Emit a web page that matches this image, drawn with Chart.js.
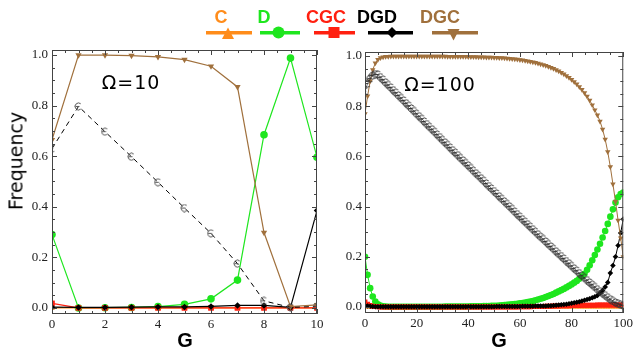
<!DOCTYPE html>
<html>
<head>
<meta charset="utf-8">
<script src="https://cdn.jsdelivr.net/npm/chart.js@4"></script>
<style>
body { margin: 0; background: #fff; }
#wrap { position: relative; width: 636px; height: 349px; overflow: hidden; font-family: "DejaVu Sans", sans-serif; }
canvas { position: absolute; top: 0; }
.lbl { position: absolute; white-space: nowrap; line-height: 1; transform: translate(-50%, -50%); color: #000; }
</style>
</head>
<body>
<div id="wrap">
  <canvas id="leftChart" width="330" height="349" style="left:0"></canvas>
  <canvas id="rightChart" width="306" height="349" style="left:330px"></canvas>
  <svg id="legend" width="636" height="45" style="position:absolute;left:0;top:0"></svg>
  <div class="lbl" style="left:16px;top:161px;font-size:19px;transform:translate(-50%,-50%) rotate(-90deg)">Frequency</div>
  <div class="lbl" style="left:185px;top:340px;font:bold 20px 'Liberation Sans'">G</div>
  <div class="lbl" style="left:499px;top:340px;font:bold 20px 'Liberation Sans'">G</div>
  <div class="lbl" style="left:131px;top:82px;font-size:19px;letter-spacing:1px">Ω=10</div>
  <div class="lbl" style="left:440px;top:84px;font-size:19px;letter-spacing:1px">Ω=100</div>
</div>
<script>
// series names / colours (legend order)
const seriesNames = ["C", "D", "CGC", "DGD", "DGC"];
const seriesColors = ["#ff8c1a", "#1ee61e", "#ff2010", "#000000", "#a0703c"];

// tick labels
const yTicks = [0, 0.2, 0.4, 0.6, 0.8, 1.0];
const xTicksLeft = [0, 2, 4, 6, 8, 10];
const xTicksRight = [0, 20, 40, 60, 80, 100];

// ---- Omega = 10 ----
const gLeft = [0, 1, 2, 3, 4, 5, 6, 7, 8, 9, 10];
const cLeft = [0, 0, 0, 0, 0, 0, 0, 0, 0, 0, 0];
const dLeft = [0.29, 0.0, 0.001, 0.002, 0.005, 0.014, 0.036, 0.11, 0.685, 0.988, 0.596];
const cgcLeft = [0.018, 0, 0, 0, 0, 0, 0, 0, 0, 0, 0];
const dgdLeft = [0.003, 0.002, 0.002, 0.003, 0.004, 0.004, 0.006, 0.01, 0.01, 0.002, 0.385];
const dgcLeft = [0.665, 1.0, 1.0, 0.998, 0.993, 0.982, 0.956, 0.874, 0.298, 0.005, 0.012];
const epsLeft = [0.63, 0.797, 0.697, 0.598, 0.497, 0.395, 0.295, 0.175, 0.028, 0.002, 0.006];

// ---- Omega = 100 ----
const gRight = [
  0, 1, 2, 3, 4, 5, 6, 7, 8, 9,
  10, 11, 12, 13, 14, 15, 16, 17, 18, 19,
  20, 21, 22, 23, 24, 25, 26, 27, 28, 29,
  30, 31, 32, 33, 34, 35, 36, 37, 38, 39,
  40, 41, 42, 43, 44, 45, 46, 47, 48, 49,
  50, 51, 52, 53, 54, 55, 56, 57, 58, 59,
  60, 61, 62, 63, 64, 65, 66, 67, 68, 69,
  70, 71, 72, 73, 74, 75, 76, 77, 78, 79,
  80, 81, 82, 83, 84, 85, 86, 87, 88, 89,
  90, 91, 92, 93, 94, 95, 96, 97, 98, 99, 100
];
const cRight = [
  0, 0, 0, 0, 0, 0, 0, 0, 0, 0,
  0, 0, 0, 0, 0, 0, 0, 0, 0, 0,
  0, 0, 0, 0, 0, 0, 0, 0, 0, 0,
  0, 0, 0, 0, 0, 0, 0, 0, 0, 0,
  0, 0, 0, 0, 0, 0, 0, 0, 0, 0,
  0, 0, 0, 0, 0, 0, 0, 0, 0, 0,
  0, 0, 0, 0, 0, 0, 0, 0, 0, 0,
  0, 0, 0, 0, 0, 0, 0, 0, 0, 0,
  0, 0, 0, 0, 0, 0, 0, 0, 0, 0,
  0, 0, 0, 0, 0, 0, 0, 0, 0, 0, 0
];
const dRight = [
  0.200, 0.128, 0.075, 0.042, 0.022, 0.011, 0.006, 0.003, 0.002, 0.001,
  0.001, 0.001, 0.001, 0.001, 0.001, 0.001, 0.001, 0.001, 0.001, 0.001,
  0.001, 0.001, 0.001, 0.001, 0.001, 0.001, 0.001, 0.001, 0.001, 0.001,
  0.001, 0.002, 0.002, 0.002, 0.002, 0.002, 0.002, 0.002, 0.002, 0.002,
  0.002, 0.003, 0.003, 0.003, 0.003, 0.003, 0.004, 0.004, 0.004, 0.005,
  0.005, 0.005, 0.006, 0.007, 0.008, 0.009, 0.010, 0.011, 0.012, 0.013,
  0.015, 0.016, 0.018, 0.020, 0.022, 0.024, 0.027, 0.030, 0.033, 0.036,
  0.040, 0.044, 0.048, 0.052, 0.057, 0.062, 0.067, 0.072, 0.078, 0.084,
  0.090, 0.097, 0.104, 0.112, 0.121, 0.132, 0.148, 0.166, 0.186, 0.207,
  0.229, 0.252, 0.277, 0.303, 0.331, 0.360, 0.389, 0.416, 0.437, 0.450, 0.456
];
const cgcRight = [
  0.020, 0.011, 0.006, 0.003, 0.002, 0.001, 0, 0, 0, 0,
  0, 0, 0, 0, 0, 0, 0, 0, 0, 0,
  0, 0, 0, 0, 0, 0, 0, 0, 0, 0,
  0, 0, 0, 0, 0, 0, 0, 0, 0, 0,
  0, 0, 0, 0, 0, 0, 0, 0, 0, 0,
  0, 0, 0, 0, 0, 0, 0, 0, 0, 0,
  0.001, 0.001, 0.001, 0.001, 0.001, 0.002, 0.002, 0.002, 0.002, 0.002,
  0.003, 0.003, 0.003, 0.004, 0.004, 0.004, 0.005, 0.005, 0.005, 0.005,
  0.006, 0.006, 0.006, 0.006, 0.007, 0.007, 0.007, 0.007, 0.007, 0.007,
  0.008, 0.008, 0.008, 0.008, 0.008, 0.008, 0.008, 0.008, 0.008, 0.008, 0.008
];
const dgdRight = [
  0.006, 0.004, 0.003, 0.002, 0.001, 0.001, 0.001, 0.001, 0.001, 0.001,
  0.001, 0.001, 0.001, 0.001, 0.001, 0.001, 0.001, 0.001, 0.001, 0.001,
  0.001, 0.001, 0.001, 0.001, 0.001, 0.001, 0.001, 0.001, 0.001, 0.001,
  0.001, 0.001, 0.001, 0.001, 0.001, 0.001, 0.001, 0.001, 0.001, 0.001,
  0.001, 0.001, 0.001, 0.001, 0.001, 0.001, 0.001, 0.001, 0.001, 0.001,
  0.001, 0.002, 0.002, 0.002, 0.002, 0.002, 0.002, 0.002, 0.002, 0.002,
  0.002, 0.003, 0.003, 0.003, 0.003, 0.003, 0.004, 0.004, 0.004, 0.004,
  0.004, 0.005, 0.005, 0.006, 0.007, 0.008, 0.009, 0.010, 0.011, 0.013,
  0.015, 0.017, 0.019, 0.021, 0.024, 0.027, 0.030, 0.033, 0.037, 0.041,
  0.046, 0.055, 0.066, 0.080, 0.098, 0.135, 0.165, 0.200, 0.245, 0.295, 0.350
];
const dgcRight = [
  0.770, 0.840, 0.900, 0.945, 0.972, 0.986, 0.993, 0.996, 0.998, 0.998,
  0.999, 0.999, 0.999, 0.999, 0.999, 0.999, 0.999, 0.999, 0.999, 0.999,
  0.999, 0.999, 0.999, 0.999, 0.999, 0.999, 0.999, 0.999, 0.999, 0.999,
  0.999, 0.999, 0.998, 0.998, 0.998, 0.998, 0.998, 0.998, 0.998, 0.998,
  0.997, 0.997, 0.997, 0.997, 0.996, 0.996, 0.996, 0.995, 0.995, 0.995,
  0.994, 0.994, 0.993, 0.993, 0.992, 0.991, 0.990, 0.989, 0.988, 0.987,
  0.985, 0.984, 0.982, 0.980, 0.978, 0.976, 0.974, 0.971, 0.968, 0.965,
  0.962, 0.958, 0.954, 0.950, 0.945, 0.940, 0.934, 0.928, 0.921, 0.914,
  0.906, 0.897, 0.888, 0.877, 0.866, 0.853, 0.839, 0.823, 0.805, 0.785,
  0.765, 0.740, 0.708, 0.668, 0.618, 0.558, 0.490, 0.420, 0.345, 0.275, 0.200
];
const epsRight = [
  0.860, 0.890, 0.910, 0.922, 0.928, 0.926, 0.916, 0.906, 0.895, 0.885,
  0.875, 0.864, 0.854, 0.843, 0.833, 0.823, 0.812, 0.802, 0.791, 0.781,
  0.770, 0.760, 0.750, 0.739, 0.729, 0.718, 0.708, 0.698, 0.687, 0.677,
  0.666, 0.656, 0.646, 0.635, 0.625, 0.615, 0.605, 0.594, 0.584, 0.574,
  0.564, 0.554, 0.543, 0.533, 0.523, 0.513, 0.503, 0.492, 0.482, 0.472,
  0.462, 0.452, 0.441, 0.431, 0.421, 0.411, 0.401, 0.391, 0.380, 0.370,
  0.360, 0.350, 0.340, 0.330, 0.320, 0.310, 0.300, 0.290, 0.280, 0.271,
  0.261, 0.251, 0.241, 0.232, 0.222, 0.212, 0.203, 0.193, 0.183, 0.174,
  0.164, 0.154, 0.145, 0.135, 0.125, 0.116, 0.107, 0.098, 0.089, 0.080,
  0.071, 0.063, 0.055, 0.047, 0.039, 0.031, 0.024, 0.018, 0.013, 0.009, 0.006
];

function pts(g, vals) {
  return vals.map((v, i) => ({ x: g[i], y: v }));
}

// open "epsilon"-like marker: a C-shaped arc with a middle stroke
function epsGlyph(size, color) {
  const c = document.createElement("canvas");
  c.width = size;
  c.height = size;
  const ctx = c.getContext("2d");
  const r = size / 2 - 1;
  ctx.strokeStyle = color;
  ctx.lineWidth = 1;
  ctx.beginPath();
  ctx.arc(size / 2, size / 2, r, Math.PI * 0.28, Math.PI * 1.72);
  ctx.moveTo(size / 2 - r + 0.5, size / 2);
  ctx.lineTo(size / 2 + 1, size / 2);
  ctx.stroke();
  return c;
}

// frame with inward ticks on all four sides
const framePlugin = {
  id: "frame",
  afterDatasetsDraw(chart, args, opts) {
    const { ctx, chartArea: a, scales } = chart;
    const x = scales.x, y = scales.y;
    ctx.save();
    ctx.strokeStyle = "#444";
    ctx.lineWidth = 1;
    ctx.strokeRect(a.left + 0.5, a.top + 0.5, a.right - a.left - 1, a.bottom - a.top - 1);
    ctx.beginPath();
    const nx = Math.round((x.max - x.min) / opts.xMinor);
    for (let k = 0; k <= nx; k++) {
      const v = x.min + k * opts.xMinor;
      const major = opts.xMajor.some(m => Math.abs(m - v) < 1e-6);
      const len = major ? 5 : 3;
      const px = Math.round(x.getPixelForValue(v)) + 0.5;
      ctx.moveTo(px, a.bottom); ctx.lineTo(px, a.bottom - len);
      ctx.moveTo(px, a.top); ctx.lineTo(px, a.top + len);
    }
    for (let k = 0; k <= 20; k++) {
      const v = k * opts.yMinor;
      const major = k % 4 === 0;
      const len = major ? 5 : 3;
      const py = Math.round(y.getPixelForValue(v)) + 0.5;
      ctx.moveTo(a.left, py); ctx.lineTo(a.left + len, py);
      ctx.moveTo(a.right, py); ctx.lineTo(a.right - len, py);
    }
    ctx.stroke();
    ctx.restore();
  }
};

function makePanel(canvas, g, data, cfg) {
  const [c, d, cgc, dgd, dgc, eps] = data;
  const base = { fill: false, tension: 0, clip: 0, borderWidth: cfg.lw };
  const tickFont = { family: '"Liberation Serif"', size: 13 };
  return new Chart(canvas, {
    type: "line",
    data: {
      datasets: [
        { ...base, label: seriesNames[0], data: pts(g, c), borderColor: seriesColors[0], backgroundColor: seriesColors[0],
          pointStyle: "triangle", pointRadius: cfg.r * 0.9, pointBorderWidth: 0, order: 5 },
        { ...base, label: seriesNames[1], data: pts(g, d), borderColor: seriesColors[1], backgroundColor: seriesColors[1],
          pointStyle: "circle", pointRadius: cfg.r, pointBorderWidth: 0, order: 4 },
        { ...base, label: seriesNames[2], data: pts(g, cgc), borderColor: seriesColors[2], backgroundColor: seriesColors[2],
          pointStyle: "rect", pointRadius: cfg.r * 1.05, pointBorderWidth: 0, order: 3 },
        { ...base, label: seriesNames[3], data: pts(g, dgd), borderColor: seriesColors[3], backgroundColor: seriesColors[3],
          pointStyle: "rectRot", pointRadius: cfg.r * 0.85, pointBorderWidth: 0, order: 2 },
        { ...base, label: seriesNames[4], data: pts(g, dgc), borderColor: seriesColors[4], backgroundColor: seriesColors[4],
          pointStyle: "triangle", rotation: 180, pointRadius: cfg.r * 0.95, pointBorderWidth: 0, order: 1 },
        { ...base, label: "eps", data: pts(g, eps), borderColor: cfg.epsLine, borderWidth: 1, borderDash: cfg.dash,
          pointStyle: epsGlyph(cfg.glyph, cfg.glyphColor), order: 0 }
      ]
    },
    options: {
      responsive: false,
      animation: false,
      devicePixelRatio: 1,
      layout: { padding: cfg.padding },
      plugins: {
        legend: { display: false },
        tooltip: { enabled: false },
        frame: { xMajor: cfg.xTicks, xMinor: cfg.xMinor, yMinor: 0.05 }
      },
      scales: {
        x: {
          type: "linear", min: cfg.xMin, max: cfg.xMax,
          grid: { display: false, drawTicks: false },
          border: { display: false },
          afterBuildTicks: s => { s.ticks = cfg.xTicks.map(v => ({ value: v })); },
          afterFit: s => { s.height = cfg.xh; },
          ticks: { font: tickFont, color: "#222", padding: 3, maxRotation: 0, autoSkip: false }
        },
        y: {
          min: cfg.yMin, max: cfg.yMax,
          grid: { display: false, drawTicks: false },
          border: { display: false },
          afterBuildTicks: s => { s.ticks = yTicks.map(v => ({ value: v })); },
          afterFit: s => { s.width = cfg.yw; },
          ticks: { font: tickFont, color: "#222", padding: cfg.ypad, autoSkip: false, callback: v => v.toFixed(1) }
        }
      }
    },
    plugins: [framePlugin]
  });
}

makePanel(document.getElementById("leftChart"), gLeft,
  [cLeft, dLeft, cgcLeft, dgdLeft, dgcLeft, epsLeft],
  { lw: 1.2, r: 3.8, glyph: 9, glyphColor: "#555", dash: [5, 4], epsLine: "#000",
    padding: { left: 0, right: 13, top: 50, bottom: 0 }, xh: 35, yw: 52, ypad: 4,
    xMin: 0, xMax: 10, xTicks: xTicksLeft, xMinor: 0.5, yMin: -0.024, yMax: 1.02 });

makePanel(document.getElementById("rightChart"), gRight,
  [cRight, dRight, cgcRight, dgdRight, dgcRight, epsRight],
  { lw: 1, r: 3.3, glyph: 9, glyphColor: "#333", dash: [], epsLine: "rgba(0,0,0,0.5)",
    padding: { left: 0, right: 10, top: 52, bottom: 0 }, xh: 36, yw: 35, ypad: 3,
    xMin: 0, xMax: 100, xTicks: xTicksRight, xMinor: 5, yMin: -0.024, yMax: 1.016 });

// legend: name above a line with the marker
const legendTextX = [221, 264, 326, 377, 440];
const legendLine = [[206, 252], [260, 300], [314, 355], [368, 413], [432, 478]];
const legendMark = [[228, 34], [278.5, 32.5], [334, 32.5], [392, 32.5], [453.5, 34]];
const svg = document.getElementById("legend");
let html = "";
seriesNames.forEach((name, i) => {
  const col = seriesColors[i];
  const [mx, my] = legendMark[i];
  html += `<text x="${legendTextX[i]}" y="23" text-anchor="middle" fill="${col}" font-family="Liberation Sans" font-weight="bold" font-size="18">${name}</text>`;
  html += `<line x1="${legendLine[i][0]}" x2="${legendLine[i][1]}" y1="32.7" y2="32.7" stroke="${col}" stroke-width="3.5"/>`;
  if (i === 0) html += `<polygon points="${mx},${my - 6.5} ${mx + 6},${my + 5} ${mx - 6},${my + 5}" fill="${col}"/>`;
  if (i === 1) html += `<circle cx="${mx}" cy="${my}" r="6" fill="${col}"/>`;
  if (i === 2) html += `<rect x="${mx - 5.5}" y="${my - 5.5}" width="11" height="11" fill="${col}"/>`;
  if (i === 3) html += `<polygon points="${mx},${my - 5.5} ${mx + 5.5},${my} ${mx},${my + 5.5} ${mx - 5.5},${my}" fill="${col}"/>`;
  if (i === 4) html += `<polygon points="${mx - 6},${my - 5} ${mx + 6},${my - 5} ${mx},${my + 6.5}" fill="${col}"/>`;
});
svg.innerHTML = html;
</script>
</body>
</html>
